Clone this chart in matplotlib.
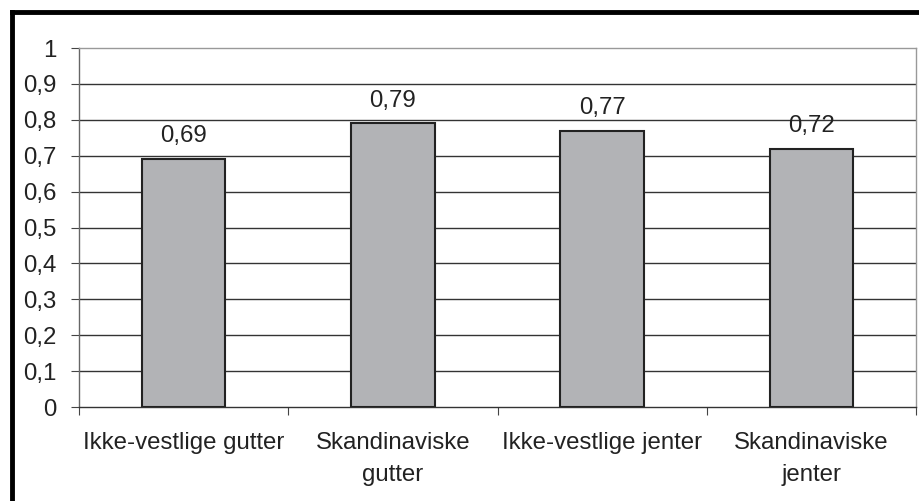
import matplotlib
matplotlib.use("Agg")
import matplotlib.pyplot as plt
from matplotlib.lines import Line2D

categories = ["Ikke-vestlige gutter", "Skandinaviske\ngutter", "Ikke-vestlige jenter", "Skandinaviske\njenter"]
values = [0.69, 0.79, 0.77, 0.72]
value_labels = ["0,69", "0,79", "0,77", "0,72"]
yticks = [0, 0.1, 0.2, 0.3, 0.4, 0.5, 0.6, 0.7, 0.8, 0.9, 1.0]
ytick_labels = ["0", "0,1", "0,2", "0,3", "0,4", "0,5", "0,6", "0,7", "0,8", "0,9", "1"]

FS = 17.3
plt.rcParams['font.family'] = ['Liberation Sans', 'DejaVu Sans']
fig = plt.figure(figsize=(9.19, 5.01), dpi=100)
ax = fig.add_axes([79/919, 1-407/501, (916-79)/919, (407-48)/501])

x = list(range(len(categories)))
ax.bar(x, values, width=0.4, color="#b2b3b6", edgecolor="#222222", linewidth=1.5, zorder=3)
for xi, v, lab in zip(x, values, value_labels):
    ax.text(xi, v + 0.047, lab, ha="center", va="baseline", fontsize=FS, color="#222222")

ax.set_xlim(-0.5, 3.5)
ax.set_ylim(0, 1)
ax.set_yticks(yticks)
ax.set_yticklabels(ytick_labels, fontsize=FS, color="#222222")
for t in yticks[1:-1]:
    ax.axhline(t, color="#333333", linewidth=1.0, zorder=1)

ax.set_xticks([-0.5, 0.5, 1.5, 2.5, 3.5])
ax.set_xticklabels([])
ax.set_xticks(x, minor=True)
ax.set_xticklabels(categories, minor=True, fontsize=FS, color="#222222", linespacing=1.6)
ax.tick_params(axis="x", which="minor", length=0, pad=18)
ax.tick_params(axis="x", which="major", length=6, color="#444444", direction="out")
ax.tick_params(axis="y", length=6, color="#444444", direction="out", pad=10)

ax.spines["top"].set_color("#999999")
ax.spines["right"].set_color("#999999")
ax.spines["left"].set_color("#666666")
ax.spines["bottom"].set_color("#333333")
for s in ax.spines.values():
    s.set_linewidth(1.0)

# outer black frame (top and left)
fig.add_artist(Line2D([12/919, 1.0], [1-12/501, 1-12/501], transform=fig.transFigure, color="black", linewidth=3.5))
fig.add_artist(Line2D([12/919, 12/919], [0.0, 1-12/501], transform=fig.transFigure, color="black", linewidth=3.5))

fig.savefig("out.png", dpi=100)
